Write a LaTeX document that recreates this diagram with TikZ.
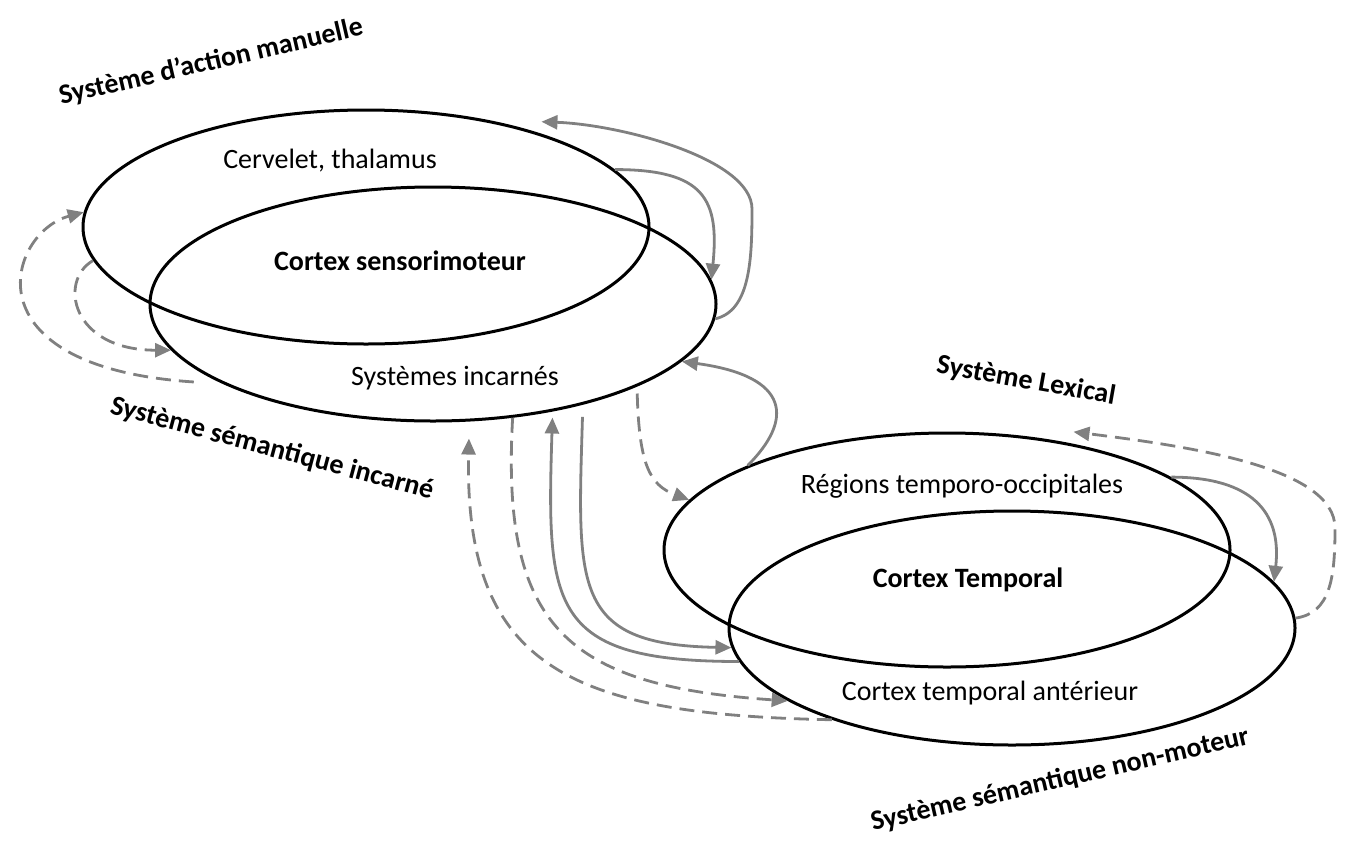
\documentclass[tikz,border=0pt]{standalone}
\usepackage{fontspec}
\setmainfont{Carlito}
\usetikzlibrary{shapes.geometric,arrows.meta}

\begin{document}
\begin{tikzpicture}[x=1pt,y=-1pt,
        zone/.style={draw,ellipse,line width=3pt,minimum width=566pt,minimum height=234pt,inner sep=0},
        lbl/.style={font=\fontsize{28}{32}\selectfont,inner sep=0,anchor=base},
        sys/.style={font=\fontsize{28}{32}\selectfont\bfseries,inner sep=0},
        lien/.style={draw=gray,line width=2.8pt,-{Triangle[length=16pt,width=14pt]}},
        lienpt/.style={lien,dash pattern=on 15pt off 8pt}]
        \useasboundingbox (0,0) rectangle (1349,841);

        \node[zone] (CT) at (366,227) {};
        \node[zone] (SI) at (433,304) {};
        \node[zone] (RT) at (947,550) {};
        \node[zone] (TA) at (1012,628) {};

        \node[lbl] (cerv) at (330,168) {Cervelet, thalamus};
        \node[lbl,font=\fontsize{28}{32}\selectfont\bfseries] (csm) at (400,270) {Cortex sensorimoteur};
        \node[lbl] (inc) at (455,385) {Systèmes incarnés};
        \node[lbl] (rto) at (962,493) {Régions temporo-occipitales};
        \node[lbl,font=\fontsize{28}{32}\selectfont\bfseries] (ctp) at (968,587) {Cortex Temporal};
        \node[lbl] (cta) at (990,700) {Cortex temporal antérieur};

        \node[sys,rotate=13] (sam) at (211,62) {Système d’action manuelle};
        \node[sys,rotate=-15] (ssi) at (272,449) {Système sémantique incarné};
        \node[sys,rotate=-10] (slx) at (1026,381) {Système Lexical};
        \node[sys,rotate=13] (ssn) at (1060,780) {Système sémantique non-moteur};

        \draw[lien] (SI.-3) .. controls +(35,-8) and +(0,50) .. (752,209) .. controls +(0,-50) and +(80,3) .. ([yshift=12pt]CT.28);
        \draw[lien] (CT.13) .. controls +(90,0) and +(8,-80) .. (SI.5);
        \draw[lienpt] ([xshift=-25pt]SI.200) .. controls +(-230,-15) and +(-75,20) .. (CT.177);
        \draw[lienpt] (CT.187) .. controls +(-35,20) and +(-100,0) .. (SI.190);

        \draw[lien] (TA.187) .. controls +(-190,0) and +(-6,190) .. ([yshift=-6pt]SI.-42);
        \draw[lien] ([yshift=-12pt]SI.-34) .. controls +(-5,170) and +(-160,-3) .. (TA.184);
        \draw[lienpt] (SI.-55) .. controls +(-12,210) and +(-220,-15) .. (TA.198);
        \draw[lienpt] (TA.207) .. controls +(-260,-5) and +(-5,230) .. ([yshift=-17pt]SI.-73);
        \draw[lienpt] ([yshift=-7pt]SI.-22) .. controls +(2,70) and +(-40,-15) .. (RT.169);
        \draw[lien] (RT.157) .. controls +(45,-45) and +(110,15) .. (SI.-13);

        \draw[lien] (RT.18) .. controls +(80,0) and +(8,-70) .. (TA.10);
        \draw[lienpt] (TA.2) .. controls +(35,-5) and +(0,50) .. (1335,528) .. controls +(0,-60) and +(120,15) .. ([yshift=12pt]RT.40);
\end{tikzpicture}
\end{document}
